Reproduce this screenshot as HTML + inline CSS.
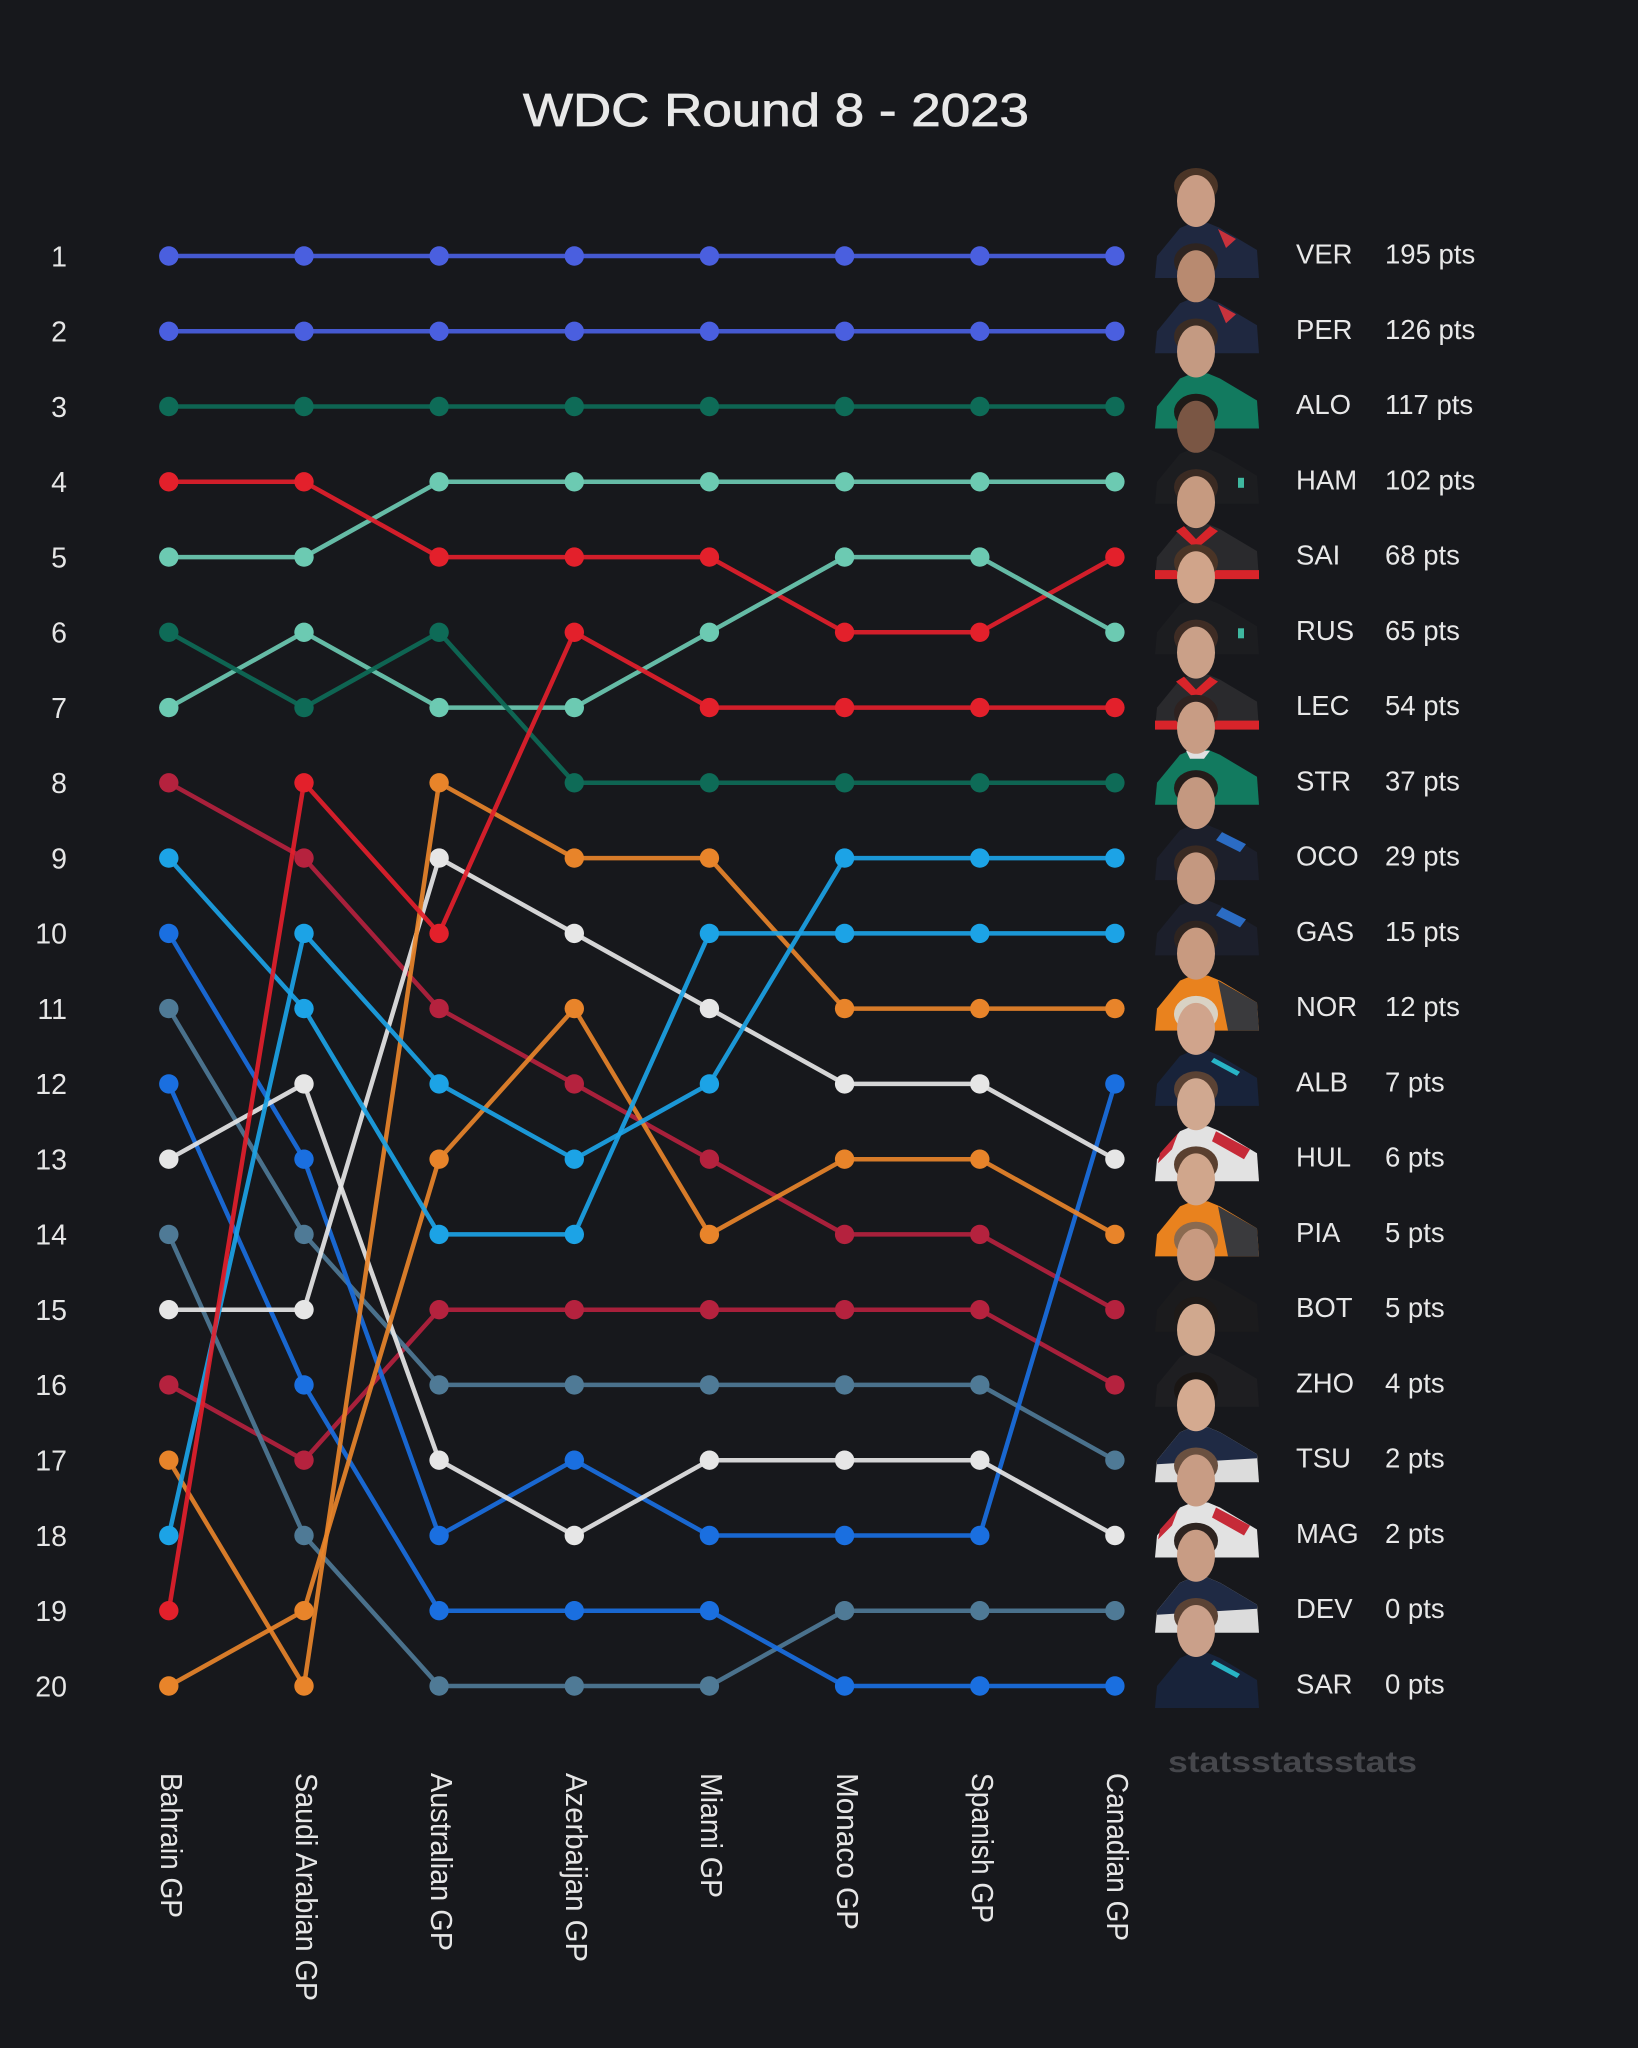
<!DOCTYPE html>
<html>
<head>
<meta charset="utf-8">
<style>
  html,body{margin:0;padding:0;background:#17181c;}
  svg{display:block;}
  text{font-family:"Liberation Sans",sans-serif;}
</style>
</head>
<body>
<svg width="1638" height="2048" viewBox="0 0 1638 2048" xmlns="http://www.w3.org/2000/svg">
<rect width="1638" height="2048" fill="#17181c"/>
<defs>
  <marker id="mRB" viewBox="-10 -10 20 20" refX="0" refY="0" markerWidth="20" markerHeight="20" markerUnits="userSpaceOnUse"><circle r="9.7" fill="#4a5fdf"/></marker>
  <marker id="mAM" viewBox="-10 -10 20 20" refX="0" refY="0" markerWidth="20" markerHeight="20" markerUnits="userSpaceOnUse"><circle r="9.7" fill="#0e6b57"/></marker>
  <marker id="mME" viewBox="-10 -10 20 20" refX="0" refY="0" markerWidth="20" markerHeight="20" markerUnits="userSpaceOnUse"><circle r="9.7" fill="#6ccab2"/></marker>
  <marker id="mFE" viewBox="-10 -10 20 20" refX="0" refY="0" markerWidth="20" markerHeight="20" markerUnits="userSpaceOnUse"><circle r="9.7" fill="#e3202b"/></marker>
  <marker id="mAL" viewBox="-10 -10 20 20" refX="0" refY="0" markerWidth="20" markerHeight="20" markerUnits="userSpaceOnUse"><circle r="9.7" fill="#1ca3e6"/></marker>
  <marker id="mMC" viewBox="-10 -10 20 20" refX="0" refY="0" markerWidth="20" markerHeight="20" markerUnits="userSpaceOnUse"><circle r="9.7" fill="#e8842a"/></marker>
  <marker id="mWI" viewBox="-10 -10 20 20" refX="0" refY="0" markerWidth="20" markerHeight="20" markerUnits="userSpaceOnUse"><circle r="9.7" fill="#1a6fe0"/></marker>
  <marker id="mHA" viewBox="-10 -10 20 20" refX="0" refY="0" markerWidth="20" markerHeight="20" markerUnits="userSpaceOnUse"><circle r="9.7" fill="#e6e6e6"/></marker>
  <marker id="mAR" viewBox="-10 -10 20 20" refX="0" refY="0" markerWidth="20" markerHeight="20" markerUnits="userSpaceOnUse"><circle r="9.7" fill="#b5223e"/></marker>
  <marker id="mAT" viewBox="-10 -10 20 20" refX="0" refY="0" markerWidth="20" markerHeight="20" markerUnits="userSpaceOnUse"><circle r="9.7" fill="#4f7a96"/></marker>
</defs>

<!-- Title -->
<text x="776" y="126" text-anchor="middle" font-size="46" fill="#e8e8e8" stroke="#e8e8e8" stroke-width="0.8" textLength="506" lengthAdjust="spacingAndGlyphs">WDC Round 8 - 2023</text>

<!-- Y axis labels -->
<g font-size="28.5" fill="#e6e6e6" text-anchor="end">
  <text x="67" y="266.3">1</text>
  <text x="67" y="341.6">2</text>
  <text x="67" y="416.8">3</text>
  <text x="67" y="492.1">4</text>
  <text x="67" y="567.4">5</text>
  <text x="67" y="642.6">6</text>
  <text x="67" y="717.9">7</text>
  <text x="67" y="793.1">8</text>
  <text x="67" y="868.4">9</text>
  <text x="67" y="943.7">10</text>
  <text x="67" y="1018.9">11</text>
  <text x="67" y="1094.2">12</text>
  <text x="67" y="1169.5">13</text>
  <text x="67" y="1244.7">14</text>
  <text x="67" y="1320.0">15</text>
  <text x="67" y="1395.2">16</text>
  <text x="67" y="1470.5">17</text>
  <text x="67" y="1545.8">18</text>
  <text x="67" y="1621.0">19</text>
  <text x="67" y="1696.3">20</text>
</g>

<!-- Lines -->
<g fill="none" stroke-width="4.5" stroke-linejoin="round" stroke-opacity="0.92">
  <polyline stroke="#4a5fdf" marker-start="url(#mRB)" marker-mid="url(#mRB)" marker-end="url(#mRB)" points="168.8,256 304,256 439.1,256 574.3,256 709.4,256 844.6,256 979.8,256 1114.9,256"/>
  <polyline stroke="#4a5fdf" marker-start="url(#mRB)" marker-mid="url(#mRB)" marker-end="url(#mRB)" points="168.8,331.3 304,331.3 439.1,331.3 574.3,331.3 709.4,331.3 844.6,331.3 979.8,331.3 1114.9,331.3"/>
  <polyline stroke="#0e6b57" marker-start="url(#mAM)" marker-mid="url(#mAM)" marker-end="url(#mAM)" points="168.8,406.5 304,406.5 439.1,406.5 574.3,406.5 709.4,406.5 844.6,406.5 979.8,406.5 1114.9,406.5"/>
  <!-- HAM -->
  <polyline stroke="#6ccab2" marker-start="url(#mME)" marker-mid="url(#mME)" marker-end="url(#mME)" points="168.8,557.1 304,557.1 439.1,481.8 574.3,481.8 709.4,481.8 844.6,481.8 979.8,481.8 1114.9,481.8"/>
  <!-- SAI -->
  <polyline stroke="#e3202b" marker-start="url(#mFE)" marker-mid="url(#mFE)" marker-end="url(#mFE)" points="168.8,481.8 304,481.8 439.1,557.1 574.3,557.1 709.4,557.1 844.6,632.3 979.8,632.3 1114.9,557.1"/>
  <!-- RUS -->
  <polyline stroke="#6ccab2" marker-start="url(#mME)" marker-mid="url(#mME)" marker-end="url(#mME)" points="168.8,707.6 304,632.3 439.1,707.6 574.3,707.6 709.4,632.3 844.6,557.1 979.8,557.1 1114.9,632.3"/>
  <!-- STR -->
  <polyline stroke="#0e6b57" marker-start="url(#mAM)" marker-mid="url(#mAM)" marker-end="url(#mAM)" points="168.8,632.3 304,707.6 439.1,632.3 574.3,782.8 709.4,782.8 844.6,782.8 979.8,782.8 1114.9,782.8"/>
  <!-- BOT -->
  <polyline stroke="#b5223e" marker-start="url(#mAR)" marker-mid="url(#mAR)" marker-end="url(#mAR)" points="168.8,782.8 304,858.1 439.1,1008.6 574.3,1083.9 709.4,1159.2 844.6,1234.4 979.8,1234.4 1114.9,1309.7"/>
  <!-- ZHO -->
  <polyline stroke="#b5223e" marker-start="url(#mAR)" marker-mid="url(#mAR)" marker-end="url(#mAR)" points="168.8,1384.9 304,1460.2 439.1,1309.7 574.3,1309.7 709.4,1309.7 844.6,1309.7 979.8,1309.7 1114.9,1384.9"/>
  <!-- TSU -->
  <polyline stroke="#4f7a96" marker-start="url(#mAT)" marker-mid="url(#mAT)" marker-end="url(#mAT)" points="168.8,1008.6 304,1234.4 439.1,1384.9 574.3,1384.9 709.4,1384.9 844.6,1384.9 979.8,1384.9 1114.9,1460.2"/>
  <!-- DEV -->
  <polyline stroke="#4f7a96" marker-start="url(#mAT)" marker-mid="url(#mAT)" marker-end="url(#mAT)" points="168.8,1234.4 304,1535.5 439.1,1686 574.3,1686 709.4,1686 844.6,1610.7 979.8,1610.7 1114.9,1610.7"/>
  <!-- ALB -->
  <polyline stroke="#1a6fe0" marker-start="url(#mWI)" marker-mid="url(#mWI)" marker-end="url(#mWI)" points="168.8,933.4 304,1159.2 439.1,1535.5 574.3,1460.2 709.4,1535.5 844.6,1535.5 979.8,1535.5 1114.9,1083.9"/>
  <!-- SAR -->
  <polyline stroke="#1a6fe0" marker-start="url(#mWI)" marker-mid="url(#mWI)" marker-end="url(#mWI)" points="168.8,1083.9 304,1384.9 439.1,1610.7 574.3,1610.7 709.4,1610.7 844.6,1686 979.8,1686 1114.9,1686"/>
  <!-- HUL -->
  <polyline stroke="#e6e6e6" marker-start="url(#mHA)" marker-mid="url(#mHA)" marker-end="url(#mHA)" points="168.8,1309.7 304,1309.7 439.1,858.1 574.3,933.4 709.4,1008.6 844.6,1083.9 979.8,1083.9 1114.9,1159.2"/>
  <!-- MAG -->
  <polyline stroke="#e6e6e6" marker-start="url(#mHA)" marker-mid="url(#mHA)" marker-end="url(#mHA)" points="168.8,1159.2 304,1083.9 439.1,1460.2 574.3,1535.5 709.4,1460.2 844.6,1460.2 979.8,1460.2 1114.9,1535.5"/>
  <!-- NOR -->
  <polyline stroke="#e8842a" marker-start="url(#mMC)" marker-mid="url(#mMC)" marker-end="url(#mMC)" points="168.8,1460.2 304,1686 439.1,782.8 574.3,858.1 709.4,858.1 844.6,1008.6 979.8,1008.6 1114.9,1008.6"/>
  <!-- PIA -->
  <polyline stroke="#e8842a" marker-start="url(#mMC)" marker-mid="url(#mMC)" marker-end="url(#mMC)" points="168.8,1686 304,1610.7 439.1,1159.2 574.3,1008.6 709.4,1234.4 844.6,1159.2 979.8,1159.2 1114.9,1234.4"/>
  <!-- OCO -->
  <polyline stroke="#1ca3e6" marker-start="url(#mAL)" marker-mid="url(#mAL)" marker-end="url(#mAL)" points="168.8,1535.5 304,933.4 439.1,1083.9 574.3,1159.2 709.4,1083.9 844.6,858.1 979.8,858.1 1114.9,858.1"/>
  <!-- GAS -->
  <polyline stroke="#1ca3e6" marker-start="url(#mAL)" marker-mid="url(#mAL)" marker-end="url(#mAL)" points="168.8,858.1 304,1008.6 439.1,1234.4 574.3,1234.4 709.4,933.4 844.6,933.4 979.8,933.4 1114.9,933.4"/>
  <!-- LEC -->
  <polyline stroke="#e3202b" marker-start="url(#mFE)" marker-mid="url(#mFE)" marker-end="url(#mFE)" points="168.8,1610.7 304,782.8 439.1,933.4 574.3,632.3 709.4,707.6 844.6,707.6 979.8,707.6 1114.9,707.6"/>
</g>

<!-- X axis labels (rotated) -->
<g font-size="31" fill="#e6e6e6">
  <text transform="translate(161,1773) rotate(90)" textLength="145" lengthAdjust="spacingAndGlyphs">Bahrain GP</text>
  <text transform="translate(296,1773) rotate(90)" textLength="228" lengthAdjust="spacingAndGlyphs">Saudi Arabian GP</text>
  <text transform="translate(431,1773) rotate(90)" textLength="178" lengthAdjust="spacingAndGlyphs">Australian GP</text>
  <text transform="translate(566,1773) rotate(90)" textLength="189" lengthAdjust="spacingAndGlyphs">Azerbaijan GP</text>
  <text transform="translate(701,1773) rotate(90)" textLength="125" lengthAdjust="spacingAndGlyphs">Miami GP</text>
  <text transform="translate(837,1773) rotate(90)" textLength="157" lengthAdjust="spacingAndGlyphs">Monaco GP</text>
  <text transform="translate(972,1773) rotate(90)" textLength="150" lengthAdjust="spacingAndGlyphs">Spanish GP</text>
  <text transform="translate(1107,1773) rotate(90)" textLength="168" lengthAdjust="spacingAndGlyphs">Canadian GP</text>
</g>

<!-- Driver photos (approximate) -->
<g id="photos">
  <!-- 1 VER -->
  <g transform="translate(0,256)">
    <path d="M1155,22 L1157,0 L1180,-28 L1192,-33 L1208,-33 L1220,-28 L1257,-6 L1259,22 Z" fill="#1f2840"/>
    <path d="M1218,-27 L1236,-17 L1226,-8 Z" fill="#c8323c"/>
    <ellipse cx="1196" cy="-70" rx="22" ry="18" fill="#4a3426"/>
    <ellipse cx="1196" cy="-55" rx="19" ry="26" fill="#c99c84"/>
  </g>
  <!-- 2 PER -->
  <g transform="translate(0,331.3)">
    <path d="M1155,22 L1157,0 L1180,-28 L1192,-33 L1208,-33 L1220,-28 L1257,-6 L1259,22 Z" fill="#1f2840"/>
    <path d="M1218,-27 L1236,-17 L1226,-8 Z" fill="#c8323c"/>
    <ellipse cx="1196" cy="-70" rx="22" ry="18" fill="#2e2420"/>
    <ellipse cx="1196" cy="-55" rx="19" ry="26" fill="#b88a70"/>
  </g>
  <!-- 3 ALO -->
  <g transform="translate(0,406.5)">
    <path d="M1155,22 L1157,0 L1180,-28 L1192,-33 L1208,-33 L1220,-28 L1257,-6 L1259,22 Z" fill="#127a5f"/>
    <ellipse cx="1196" cy="-70" rx="22" ry="18" fill="#3a2c24"/>
    <ellipse cx="1196" cy="-55" rx="19" ry="26" fill="#c49a82"/>
  </g>
  <!-- 4 HAM -->
  <g transform="translate(0,481.8)">
    <path d="M1155,22 L1157,0 L1180,-28 L1192,-33 L1208,-33 L1220,-28 L1257,-6 L1259,22 Z" fill="#1c1d20"/>
    <rect x="1238" y="-4" width="6" height="10" fill="#3fb8a0"/>
    <ellipse cx="1196" cy="-70" rx="22" ry="18" fill="#1e1a18"/>
    <ellipse cx="1196" cy="-55" rx="19" ry="26" fill="#7a5644"/>
  </g>
  <!-- 5 SAI -->
  <g transform="translate(0,557.1)">
    <path d="M1155,22 L1157,0 L1180,-28 L1192,-33 L1208,-33 L1220,-28 L1257,-6 L1259,22 Z" fill="#2a2a2d"/>
    <path d="M1184,-31 L1196,-18 L1210,-31 L1218,-26 L1196,-8 L1176,-26 Z" fill="#d8242a"/>
    <rect x="1155" y="13" width="104" height="9" fill="#d8242a"/>
    <ellipse cx="1196" cy="-70" rx="22" ry="18" fill="#3a2a22"/>
    <ellipse cx="1196" cy="-55" rx="19" ry="26" fill="#c69a80"/>
  </g>
  <!-- 6 RUS -->
  <g transform="translate(0,632.3)">
    <path d="M1155,22 L1157,0 L1180,-28 L1192,-33 L1208,-33 L1220,-28 L1257,-6 L1259,22 Z" fill="#1c1d20"/>
    <rect x="1238" y="-4" width="6" height="10" fill="#3fb8a0"/>
    <ellipse cx="1196" cy="-70" rx="22" ry="18" fill="#4a3426"/>
    <ellipse cx="1196" cy="-55" rx="19" ry="26" fill="#d0a48a"/>
  </g>
  <!-- 7 LEC -->
  <g transform="translate(0,707.6)">
    <path d="M1155,22 L1157,0 L1180,-28 L1192,-33 L1208,-33 L1220,-28 L1257,-6 L1259,22 Z" fill="#2a2a2d"/>
    <path d="M1184,-31 L1196,-18 L1210,-31 L1218,-26 L1196,-8 L1176,-26 Z" fill="#d8242a"/>
    <rect x="1155" y="13" width="104" height="9" fill="#d8242a"/>
    <ellipse cx="1196" cy="-70" rx="22" ry="18" fill="#3e2c24"/>
    <ellipse cx="1196" cy="-55" rx="19" ry="26" fill="#caa088"/>
  </g>
  <!-- 8 STR -->
  <g transform="translate(0,782.8)">
    <path d="M1155,22 L1157,0 L1180,-28 L1192,-33 L1208,-33 L1220,-28 L1257,-6 L1259,22 Z" fill="#127a5f"/>
    <path d="M1186,-32 L1210,-32 L1204,-24 L1190,-24 Z" fill="#e0e0e0"/>
    <ellipse cx="1196" cy="-70" rx="22" ry="18" fill="#2e2220"/>
    <ellipse cx="1196" cy="-55" rx="19" ry="26" fill="#c89c84"/>
  </g>
  <!-- 9 OCO -->
  <g transform="translate(0,858.1)">
    <path d="M1155,22 L1157,0 L1180,-28 L1192,-33 L1208,-33 L1220,-28 L1257,-6 L1259,22 Z" fill="#1c1f2b"/>
    <path d="M1222,-26 L1246,-14 L1240,-6 L1216,-18 Z" fill="#2b6cc4"/>
    <ellipse cx="1196" cy="-70" rx="22" ry="18" fill="#241c1a"/>
    <ellipse cx="1196" cy="-55" rx="19" ry="26" fill="#c49880"/>
  </g>
  <!-- 10 GAS -->
  <g transform="translate(0,933.4)">
    <path d="M1155,22 L1157,0 L1180,-28 L1192,-33 L1208,-33 L1220,-28 L1257,-6 L1259,22 Z" fill="#1c1f2b"/>
    <path d="M1222,-26 L1246,-14 L1240,-6 L1216,-18 Z" fill="#2b6cc4"/>
    <ellipse cx="1196" cy="-70" rx="22" ry="18" fill="#3a2a22"/>
    <ellipse cx="1196" cy="-55" rx="19" ry="26" fill="#c49880"/>
  </g>
  <!-- 11 NOR -->
  <g transform="translate(0,1008.6)">
    <path d="M1155,22 L1157,0 L1180,-28 L1192,-33 L1208,-33 L1220,-28 L1257,-6 L1259,22 Z" fill="#e9821e"/>
    <path d="M1218,-28 L1257,-6 L1259,22 L1228,22 Z" fill="#3a3a3d"/>
    <ellipse cx="1196" cy="-70" rx="22" ry="18" fill="#2e2420"/>
    <ellipse cx="1196" cy="-55" rx="19" ry="26" fill="#c89a80"/>
  </g>
  <!-- 12 ALB -->
  <g transform="translate(0,1083.9)">
    <path d="M1155,22 L1157,0 L1180,-28 L1192,-33 L1208,-33 L1220,-28 L1257,-6 L1259,22 Z" fill="#18233a"/>
    <path d="M1214,-26 L1240,-12 L1237,-8 L1211,-22 Z" fill="#28b4c6"/>
    <ellipse cx="1196" cy="-70" rx="22" ry="18" fill="#d9d2c4"/>
    <ellipse cx="1196" cy="-55" rx="19" ry="26" fill="#d0a48c"/>
  </g>
  <!-- 13 HUL -->
  <g transform="translate(0,1159.2)">
    <path d="M1155,22 L1157,0 L1180,-28 L1192,-33 L1208,-33 L1220,-28 L1257,-6 L1259,22 Z" fill="#e2e2e2"/>
    <path d="M1216,-28 L1250,-10 L1244,0 L1212,-18 Z" fill="#c62a38"/>
    <path d="M1178,-26 L1160,-6 L1158,4 L1172,-10 Z" fill="#c62a38"/>
    <ellipse cx="1196" cy="-70" rx="22" ry="18" fill="#5a4234"/>
    <ellipse cx="1196" cy="-55" rx="19" ry="26" fill="#d0a890"/>
  </g>
  <!-- 14 PIA -->
  <g transform="translate(0,1234.4)">
    <path d="M1155,22 L1157,0 L1180,-28 L1192,-33 L1208,-33 L1220,-28 L1257,-6 L1259,22 Z" fill="#e9821e"/>
    <path d="M1218,-28 L1257,-6 L1259,22 L1228,22 Z" fill="#3a3a3d"/>
    <ellipse cx="1196" cy="-70" rx="22" ry="18" fill="#5a4030"/>
    <ellipse cx="1196" cy="-55" rx="19" ry="26" fill="#d0a68c"/>
  </g>
  <!-- 15 BOT -->
  <g transform="translate(0,1309.7)">
    <path d="M1155,22 L1157,0 L1180,-28 L1192,-33 L1208,-33 L1220,-28 L1257,-6 L1259,22 Z" fill="#1b1b1d"/>
    <ellipse cx="1196" cy="-70" rx="22" ry="18" fill="#8a6a50"/>
    <ellipse cx="1196" cy="-55" rx="19" ry="26" fill="#c89a80"/>
  </g>
  <!-- 16 ZHO -->
  <g transform="translate(0,1384.9)">
    <path d="M1155,22 L1157,0 L1180,-28 L1192,-33 L1208,-33 L1220,-28 L1257,-6 L1259,22 Z" fill="#1e1e21"/>
    <ellipse cx="1196" cy="-70" rx="22" ry="18" fill="#1e1a18"/>
    <ellipse cx="1196" cy="-55" rx="19" ry="26" fill="#d0a88e"/>
  </g>
  <!-- 17 TSU -->
  <g transform="translate(0,1460.2)">
    <path d="M1155,22 L1157,0 L1180,-28 L1192,-33 L1208,-33 L1220,-28 L1257,-6 L1259,22 Z" fill="#dcdcdc"/>
    <path d="M1157,0 L1180,-28 L1192,-33 L1208,-33 L1220,-28 L1257,-6 L1257,-2 L1157,4 Z" fill="#1f2a44"/>
    <ellipse cx="1196" cy="-70" rx="22" ry="18" fill="#1a1614"/>
    <ellipse cx="1196" cy="-55" rx="19" ry="26" fill="#d4aa90"/>
  </g>
  <!-- 18 MAG -->
  <g transform="translate(0,1535.5)">
    <path d="M1155,22 L1157,0 L1180,-28 L1192,-33 L1208,-33 L1220,-28 L1257,-6 L1259,22 Z" fill="#e2e2e2"/>
    <path d="M1216,-28 L1250,-10 L1244,0 L1212,-18 Z" fill="#c62a38"/>
    <path d="M1178,-26 L1160,-6 L1158,4 L1172,-10 Z" fill="#c62a38"/>
    <ellipse cx="1196" cy="-70" rx="22" ry="18" fill="#6a5040"/>
    <ellipse cx="1196" cy="-55" rx="19" ry="26" fill="#c89c84"/>
  </g>
  <!-- 19 DEV -->
  <g transform="translate(0,1610.7)">
    <path d="M1155,22 L1157,0 L1180,-28 L1192,-33 L1208,-33 L1220,-28 L1257,-6 L1259,22 Z" fill="#dcdcdc"/>
    <path d="M1157,0 L1180,-28 L1192,-33 L1208,-33 L1220,-28 L1257,-6 L1257,-2 L1157,4 Z" fill="#1f2a44"/>
    <ellipse cx="1196" cy="-70" rx="22" ry="18" fill="#2e2420"/>
    <ellipse cx="1196" cy="-55" rx="19" ry="26" fill="#c89c84"/>
  </g>
  <!-- 20 SAR -->
  <g transform="translate(0,1686)">
    <path d="M1155,22 L1157,0 L1180,-28 L1192,-33 L1208,-33 L1220,-28 L1257,-6 L1259,22 Z" fill="#18233a"/>
    <path d="M1214,-26 L1240,-12 L1237,-8 L1211,-22 Z" fill="#28b4c6"/>
    <ellipse cx="1196" cy="-70" rx="22" ry="18" fill="#5a4234"/>
    <ellipse cx="1196" cy="-55" rx="19" ry="26" fill="#caa08a"/>
  </g>
</g>

<!-- Right labels -->
<g font-size="27.5" fill="#e8e8e8">
  <text x="1296" y="263.5">VER</text><text x="1385" y="263.5">195 pts</text>
  <text x="1296" y="338.8">PER</text><text x="1385" y="338.8">126 pts</text>
  <text x="1296" y="414.0">ALO</text><text x="1385" y="414.0">117 pts</text>
  <text x="1296" y="489.3">HAM</text><text x="1385" y="489.3">102 pts</text>
  <text x="1296" y="564.6">SAI</text><text x="1385" y="564.6">68 pts</text>
  <text x="1296" y="639.8">RUS</text><text x="1385" y="639.8">65 pts</text>
  <text x="1296" y="715.1">LEC</text><text x="1385" y="715.1">54 pts</text>
  <text x="1296" y="790.3">STR</text><text x="1385" y="790.3">37 pts</text>
  <text x="1296" y="865.6">OCO</text><text x="1385" y="865.6">29 pts</text>
  <text x="1296" y="940.9">GAS</text><text x="1385" y="940.9">15 pts</text>
  <text x="1296" y="1016.1">NOR</text><text x="1385" y="1016.1">12 pts</text>
  <text x="1296" y="1091.4">ALB</text><text x="1385" y="1091.4">7 pts</text>
  <text x="1296" y="1166.7">HUL</text><text x="1385" y="1166.7">6 pts</text>
  <text x="1296" y="1241.9">PIA</text><text x="1385" y="1241.9">5 pts</text>
  <text x="1296" y="1317.2">BOT</text><text x="1385" y="1317.2">5 pts</text>
  <text x="1296" y="1392.4">ZHO</text><text x="1385" y="1392.4">4 pts</text>
  <text x="1296" y="1467.7">TSU</text><text x="1385" y="1467.7">2 pts</text>
  <text x="1296" y="1543.0">MAG</text><text x="1385" y="1543.0">2 pts</text>
  <text x="1296" y="1618.2">DEV</text><text x="1385" y="1618.2">0 pts</text>
  <text x="1296" y="1693.5">SAR</text><text x="1385" y="1693.5">0 pts</text>
</g>

<!-- Watermark -->
<text x="1168" y="1772" font-size="30" font-weight="bold" fill="#46474c" textLength="249" lengthAdjust="spacingAndGlyphs">statsstatsstats</text>
</svg>
</body>
</html>
